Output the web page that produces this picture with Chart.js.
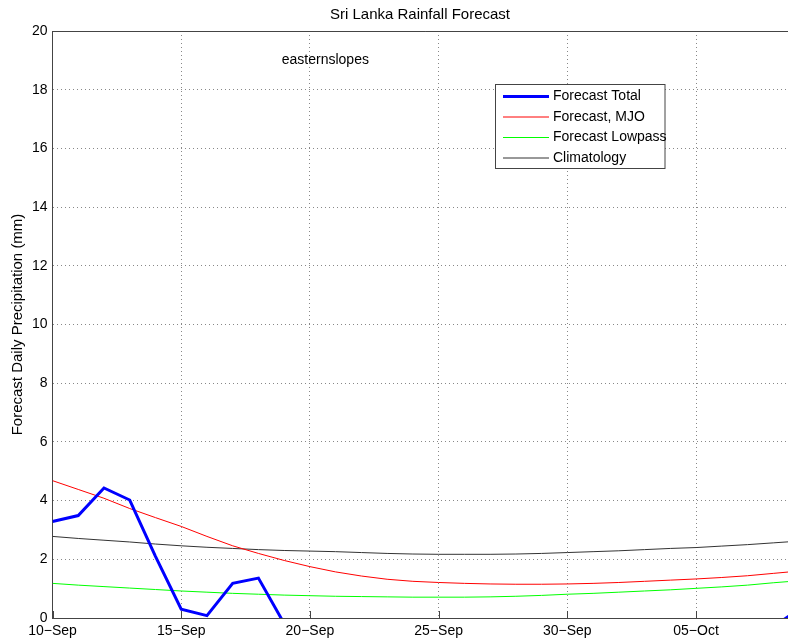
<!DOCTYPE html>
<html>
<head>
<meta charset="utf-8">
<script src="https://cdn.jsdelivr.net/npm/chart.js@4/dist/chart.umd.min.js"></script>
<style>
  html, body { margin: 0; padding: 0; background: #fff; overflow: hidden; }
  #wrap { width: 800px; height: 643px; }
</style>
</head>
<body>
<div id="wrap"><canvas id="c" width="800" height="643"></canvas></div>
<script>
// ---- data (day offsets from 10-Sep) ----
const days = [0,1,2,3,4,5,6,7,8,9,10,11,12,13,14,15,16,17,18,19,20,21,22,23,24,25,26,27,28,29];
const tickLabels = {0:'10\u2212Sep',5:'15\u2212Sep',10:'20\u2212Sep',15:'25\u2212Sep',20:'30\u2212Sep',25:'05\u2212Oct'};
const forecastTotal = [3.29,3.49,4.43,4.02,2.10,0.30,0.08,1.18,1.36,-0.19,-0.6,-0.9,-1.1,-1.2,-1.2,-1.1,-1.0,-0.9,-0.9,-0.8,-0.8,-0.7,-0.7,-0.6,-0.6,-0.5,-0.5,-0.4,-0.3,0.3];
const forecastMJO = [4.68,4.38,4.08,3.73,3.42,3.12,2.78,2.46,2.20,1.96,1.75,1.57,1.43,1.32,1.25,1.21,1.18,1.16,1.15,1.15,1.16,1.18,1.21,1.25,1.29,1.33,1.38,1.44,1.52,1.60];
const forecastLowpass = [1.18,1.12,1.07,1.02,0.97,0.92,0.88,0.84,0.81,0.78,0.76,0.74,0.73,0.72,0.71,0.71,0.71,0.72,0.74,0.77,0.81,0.84,0.88,0.92,0.96,1.01,1.06,1.12,1.20,1.27];
const climatology = [2.78,2.71,2.65,2.59,2.52,2.46,2.41,2.37,2.33,2.30,2.28,2.26,2.23,2.20,2.18,2.17,2.17,2.17,2.18,2.20,2.23,2.26,2.29,2.33,2.37,2.40,2.45,2.50,2.56,2.62];
const seriesNames = ['Forecast Total','Forecast, MJO','Forecast Lowpass','Climatology'];

const pts = arr => days.map((d,i) => ({x:d, y:arr[i]}));
const FONT = '"Liberation Sans", Arial, Helvetica, sans-serif';

const decor = {
  id: 'decor',
  afterDraw(chart) {
    const ctx = chart.ctx, ca = chart.chartArea, xs = chart.scales.x, ys = chart.scales.y;
    ctx.save();
    // top frame
    ctx.strokeStyle = '#444'; ctx.lineWidth = 1;
    ctx.beginPath(); ctx.moveTo(ca.left, ca.top + 0.5); ctx.lineTo(ca.right, ca.top + 0.5); ctx.stroke();
    // inward ticks on bottom axis
    xs.ticks.forEach(t => {
      const px = Math.round(xs.getPixelForValue(t.value)) + 0.5;
      ctx.beginPath(); ctx.moveTo(px, ca.bottom); ctx.lineTo(px, ca.bottom - 7); ctx.stroke();
    });
    // title
    ctx.fillStyle = '#000';
    ctx.font = '15px ' + FONT;
    ctx.textAlign = 'center'; ctx.textBaseline = 'middle';
    ctx.fillText('Sri Lanka Rainfall Forecast', 420, 15);
    // annotation
    ctx.font = '14px ' + FONT;
    ctx.fillText('easternslopes', xs.getPixelForValue(10.6), ys.getPixelForValue(19.0));
    // legend
    const lx = 495.5, ly = 84.5, lw = 169.5, lh = 84;
    ctx.fillStyle = '#fff'; ctx.fillRect(lx, ly, lw, lh);
    ctx.strokeStyle = '#444'; ctx.lineWidth = 1; ctx.strokeRect(lx, ly, lw, lh);
    ctx.textAlign = 'left';
    chart.data.datasets.forEach((ds, i) => {
      const yy = 96.5 + i * 20.5;
      ctx.strokeStyle = ds.borderColor; ctx.lineWidth = ds.borderWidth;
      ctx.beginPath(); ctx.moveTo(503, yy); ctx.lineTo(549, yy); ctx.stroke();
      ctx.fillStyle = '#000';
      ctx.fillText(ds.label, 553, yy);
    });
    ctx.restore();
  }
};

new Chart(document.getElementById('c'), {
  type: 'line',
  data: {
    datasets: [
      {label: seriesNames[0], data: pts(forecastTotal), borderColor: '#0000ff', borderWidth: 3},
      {label: seriesNames[1], data: pts(forecastMJO), borderColor: '#ff0000', borderWidth: 1},
      {label: seriesNames[2], data: pts(forecastLowpass), borderColor: '#00ff00', borderWidth: 1},
      {label: seriesNames[3], data: pts(climatology), borderColor: '#333333', borderWidth: 1}
    ]
  },
  options: {
    responsive: false,
    animation: false,
    devicePixelRatio: 1,
    layout: { padding: { top: 31, right: 1, bottom: 0, left: 0 } },
    elements: { point: { radius: 0 }, line: { tension: 0, fill: false } },
    plugins: { legend: { display: false }, tooltip: { enabled: false }, title: { display: false } },
    scales: {
      x: {
        type: 'linear', min: 0, max: 29,
        afterBuildTicks: s => { s.ticks = s.ticks.filter(t => t.value % 5 === 0); },
        afterFit: s => { s.height = 25; },
        ticks: { stepSize: 5, maxRotation: 0, autoSkip: false, padding: 5, color: '#000',
                 font: { family: FONT, size: 14 }, callback: v => tickLabels[v] || '' },
        grid: { color: '#888', drawTicks: false, lineWidth: 1 },
        border: { display: true, color: '#444', width: 1, dash: [1, 3] }
      },
      y: {
        min: 0, max: 20,
        afterFit: s => { s.width = 52.5; },
        ticks: { stepSize: 2, padding: 5, color: '#000', font: { family: FONT, size: 14 } },
        grid: { color: '#888', drawTicks: false, lineWidth: 1 },
        border: { display: true, color: '#444', width: 1, dash: [1, 3] },
        title: { display: true, text: 'Forecast Daily Precipitation (mm)', color: '#000',
                 font: { family: FONT, size: 15 }, padding: { top: 9, bottom: 0 } }
      }
    }
  },
  plugins: [decor]
});
</script>
</body>
</html>
